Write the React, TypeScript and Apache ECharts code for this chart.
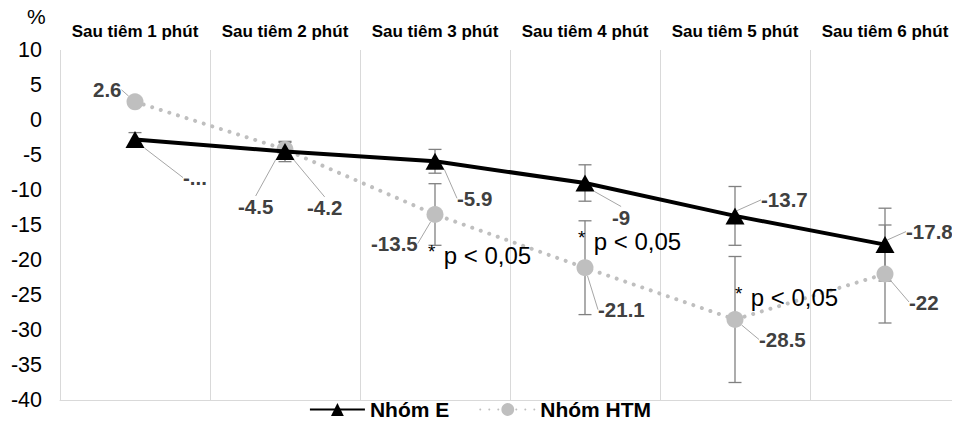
import React, { useEffect, useRef } from "react";
import * as echarts from "echarts";

const categories = [
  "Sau tiêm 1 phút",
  "Sau tiêm 2 phút",
  "Sau tiêm 3 phút",
  "Sau tiêm 4 phút",
  "Sau tiêm 5 phút",
  "Sau tiêm 6 phút",
];
const nhomE = [-2.8, -4.5, -5.9, -9, -13.7, -17.8];
const nhomHTM = [2.6, -4.2, -13.5, -21.1, -28.5, -22];
const errE = [1.0, 1.45, 1.7, 2.6, 4.2, 5.2];
const errHTM = [0.5, 1.0, 4.4, 6.7, 9.0, 7.0];
const eLabelOverride: Record<number, string> = { 0: "-..." };
const annotCats = [2, 3, 4];
const annotValues = [-19.4, -17.4, -25.3];
const yTicks = { min: -40, max: 10, interval: 5 };

// label offsets (layout only)
const eLabelOffsets = [
  [48, 38],
  [-47, 55],
  [22, 37],
  [27, 34],
  [26, -16],
  [21, -13],
];
const htmLabelOffsets = [
  [-42, -12],
  [22, 58],
  [-64, 29],
  [13, 42],
  [24, 20],
  [24, 28],
];
const annotDx = [-7, -7, 0];

const FONT = "Liberation Sans, Arial, sans-serif";

export default function App() {
  const ref = useRef<HTMLDivElement>(null);
  useEffect(() => {
    if (!ref.current) return;
    const chart = echarts.init(ref.current, undefined, { renderer: "svg" });
    const errData = (vals: number[], errs: number[]) =>
      vals.map((v, i) => [i, v - errs[i], v + errs[i]]);
    const renderErr = (params: any, api: any) => {
      const x = api.value(0);
      const lo = api.coord([x, api.value(1)]);
      const hi = api.coord([x, api.value(2)]);
      const w = 6.5;
      const style = { stroke: "#808080", lineWidth: 1.3 };
      return {
        type: "group",
        children: [
          { type: "line", shape: { x1: lo[0], y1: lo[1], x2: hi[0], y2: hi[1] }, style },
          { type: "line", shape: { x1: lo[0] - w, y1: lo[1], x2: lo[0] + w, y2: lo[1] }, style },
          { type: "line", shape: { x1: hi[0] - w, y1: hi[1], x2: hi[0] + w, y2: hi[1] }, style },
        ],
      };
    };
    const labelBase = {
      show: true,
      position: "inside",
      align: "left",
      verticalAlign: "middle",
      fontFamily: FONT,
      fontWeight: "bold",
      fontSize: 20.5,
      color: "#404040",
    };
    const option: any = {
      animation: false,
      textStyle: { fontFamily: FONT },
      grid: { left: 60, right: 0, top: 50, bottom: 25, containLabel: false },
      graphic: [
        {
          type: "text",
          left: 27,
          top: 6,
          style: {
            text: "%",
            font: 'normal 21px "Liberation Sans", Arial, sans-serif',
            fontSize: 21,
            fill: "#000",
          },
        },
      ],
      xAxis: [
        {
          type: "category",
          data: categories,
          position: "top",
          boundaryGap: true,
          axisLine: { show: false },
          axisTick: { show: false },
          axisLabel: {
            fontFamily: FONT,
            fontWeight: "bold",
            fontSize: 17,
            color: "#000",
            margin: 10,
            interval: 0,
          },
          splitLine: { show: true, lineStyle: { color: "#d9d9d9", width: 1 } },
        },
        {
          type: "category",
          data: categories,
          position: "bottom",
          axisLine: { show: true, onZero: true, lineStyle: { color: "#d9d9d9", width: 1 } },
          axisTick: { show: false },
          axisLabel: { show: false },
          splitLine: { show: false },
        },
      ],
      yAxis: {
        type: "value",
        min: yTicks.min,
        max: yTicks.max,
        interval: yTicks.interval,
        axisLine: { show: false },
        axisTick: { show: false },
        splitLine: { show: false },
        axisLabel: { fontFamily: FONT, fontSize: 21.5, color: "#000", margin: 18 },
      },
      legend: {
        bottom: 0,
        left: "center",
        itemWidth: 55,
        itemHeight: 16,
        itemGap: 30,
        textStyle: { fontFamily: FONT, fontWeight: "bold", fontSize: 21, color: "#000" },
        data: ["Nhóm E", "Nhóm HTM"],
      },
      series: [
        {
          name: "errE",
          type: "custom",
          renderItem: renderErr,
          data: errData(nhomE, errE),
          z: 1,
          silent: true,
        },
        {
          name: "errHTM",
          type: "custom",
          renderItem: renderErr,
          data: errData(nhomHTM, errHTM),
          z: 1,
          silent: true,
        },
        {
          name: "Nhóm HTM",
          type: "line",
          data: nhomHTM,
          z: 3,
          symbol: "circle",
          symbolSize: 17,
          itemStyle: { color: "#bfbfbf" },
          lineStyle: { color: "#bfbfbf", width: 4, type: [0.01, 9], cap: "round" },
          label: { ...labelBase },
          labelLine: { show: true, lineStyle: { color: "#a6a6a6", width: 1 } },
          labelLayout: (p: any) => ({
            dx: htmLabelOffsets[p.dataIndex][0],
            dy: htmLabelOffsets[p.dataIndex][1],
          }),
          markPoint: {
            symbol: "circle",
            symbolSize: 0,
            data: annotCats.map((c, i) => ({
              coord: [c, annotValues[i]],
              label: {
                show: true,
                position: "inside",
                align: "left",
                verticalAlign: "middle",
                offset: [annotDx[i], 0],
                formatter: "{a|*} {b|p < 0,05}",
                rich: {
                  a: {
                    fontFamily: FONT,
                    fontSize: 19,
                    color: "#000",
                    verticalAlign: "top",
                    padding: [0, 5, 8, 0],
                  },
                  b: { fontFamily: FONT, fontSize: 24, color: "#000" },
                },
              },
            })),
          },
        },
        {
          name: "Nhóm E",
          type: "line",
          data: nhomE,
          z: 4,
          symbol: "triangle",
          symbolSize: [19, 17],
          itemStyle: { color: "#000" },
          lineStyle: { color: "#000", width: 4 },
          label: {
            ...labelBase,
            formatter: (p: any) =>
              eLabelOverride[p.dataIndex] !== undefined ? eLabelOverride[p.dataIndex] : String(p.value),
          },
          labelLine: { show: true, lineStyle: { color: "#a6a6a6", width: 1 } },
          labelLayout: (p: any) => ({
            dx: eLabelOffsets[p.dataIndex][0],
            dy: eLabelOffsets[p.dataIndex][1],
          }),
        },
      ],
    };
    chart.setOption(option);
    return () => chart.dispose();
  }, []);
  return <div ref={ref} style={{ width: 960, height: 425, margin: -8 }} />;
}
